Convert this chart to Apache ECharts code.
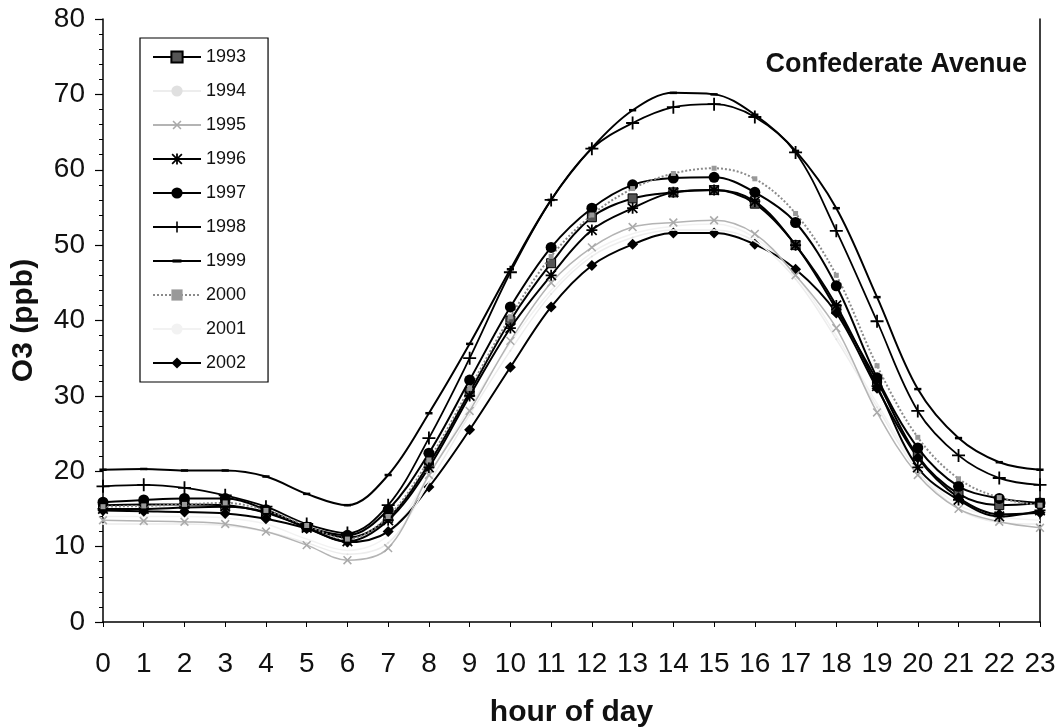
<!DOCTYPE html>
<html>
<head>
<meta charset="utf-8">
<script src="https://cdn.jsdelivr.net/npm/echarts@6/dist/echarts.min.js"></script>
<style>html,body{margin:0;padding:0;background:#fff}#c{width:1060px;height:728px}</style>
</head>
<body>
<div id="c"></div>
<script>
const hours = ['0','1','2','3','4','5','6','7','8','9','10','11','12','13','14','15','16','17','18','19','20','21','22','23'];
const yTicks = [0,10,20,30,40,50,60,70,80];
const s1993 = [15.5,15.6,15.6,15.5,14.5,12.6,11.2,13.8,21.0,30.5,40.0,47.6,53.7,56.2,57.0,57.3,55.5,50.0,41.5,32.0,22.0,17.0,15.5,15.8];
const s1994 = [13.0,13.0,13.0,12.8,12.0,10.5,9.0,10.5,18.5,27.5,36.0,43.5,48.5,51.0,52.0,52.0,50.5,45.5,37.5,28.5,20.0,15.0,13.2,13.0];
const s1995 = [13.5,13.4,13.3,13.0,12.0,10.2,8.2,9.8,19.5,28.0,37.3,45.0,49.7,52.4,53.0,53.3,51.5,46.0,39.0,27.8,19.5,15.0,13.3,12.5];
const s1996 = [15.0,15.0,15.2,15.3,14.6,12.5,10.7,13.5,20.5,30.0,39.0,46.0,52.0,54.9,57.0,57.3,55.8,50.0,42.0,31.3,20.5,16.2,14.0,14.8];
const s1997 = [15.9,16.2,16.4,16.4,14.9,12.6,11.5,14.9,22.4,32.1,41.8,49.7,54.9,58.0,58.9,59.0,57.0,53.0,44.6,32.4,23.1,18.0,16.4,15.8];
const s1998 = [18.0,18.2,17.8,16.8,15.3,13.0,11.8,15.5,24.4,35.0,46.4,56.0,62.8,66.2,68.3,68.7,67.0,62.3,51.9,39.9,28.0,22.1,19.1,18.2];
const s1999 = [20.2,20.3,20.1,20.1,19.3,17.0,15.5,19.5,27.7,36.9,46.8,56.0,62.9,67.9,70.2,70.0,67.3,62.5,54.9,43.1,30.9,24.4,21.2,20.2];
const s2000 = [15.3,15.4,15.6,15.8,14.8,12.8,11.0,14.0,21.5,31.0,40.5,48.5,54.0,57.5,59.5,60.2,58.8,54.2,46.0,34.0,24.5,19.0,16.5,15.5];
const s2001 = [14.0,14.0,14.0,13.8,13.0,11.0,9.5,11.5,19.5,28.5,37.0,44.0,49.0,51.5,52.5,52.8,51.0,46.0,38.0,29.0,20.5,15.5,14.0,13.5];
const s2002 = [14.8,14.7,14.6,14.4,13.7,12.4,10.6,12.0,17.9,25.5,33.8,41.8,47.3,50.1,51.6,51.6,50.1,46.8,41.0,31.0,21.8,16.5,14.3,14.5];
const years = ['1993','1994','1995','1996','1997','1998','1999','2000','2001','2002'];
const values = [s1993,s1994,s1995,s1996,s1997,s1998,s1999,s2000,s2001,s2002];

const PLUS = 'path://M4.3,0h1.4v10h-1.4z M0,4.3h10v1.4h-10z';
const ASTER = 'path://M4.2,0h1.6v10h-1.6z M0,4.2h10v1.6h-10z M1.2,0.1 L9.9,8.8 L8.8,9.9 L0.1,1.2z M8.8,0.1 L9.9,1.2 L1.2,9.9 L0.1,8.8z';
const DASH = 'path://M0,0L0,0M10,10L10,10M1,3.6h8v2.8h-8z';
const FONT = 'Liberation Sans, Arial, sans-serif';
const styles = [
  {color:'#000', width:2, symbol:'rect', size:9, itemColor:'#555', border:'#000'},
  {color:'#ededed', width:1.5, symbol:'circle', size:2, itemColor:'#e0e0e0', border:'#e0e0e0'},
  {color:'#b4b4b4', width:1.5, symbol:PLUS, size:11, rotate:45, itemColor:'#aaa', border:'#aaa'},
  {color:'#000', width:2, symbol:ASTER, size:11, itemColor:'#000', border:'#000'},
  {color:'#000', width:2, symbol:'circle', size:11, itemColor:'#000', border:'#000'},
  {color:'#000', width:1.8, symbol:PLUS, size:13, itemColor:'#000', border:'#000'},
  {color:'#000', width:2, symbol:DASH, size:9, itemColor:'#000', border:'#000'},
  {color:'#8a8a8a', width:2, type:'dotted', symbol:'rect', size:5, itemColor:'#999', border:'#999'},
  {color:'#f2f2f2', width:1.5, symbol:'none', size:0, itemColor:'#f2f2f2', border:'#f2f2f2'},
  {color:'#000', width:2, symbol:'diamond', size:11, itemColor:'#000', border:'#000'}
];

const series = years.map((y,i)=>{
  const st = styles[i];
  return {
    name: y, type:'line', data: values[i], smooth: 0.35,
    symbol: st.symbol, symbolSize: st.size, symbolRotate: st.rotate || 0,
    showSymbol: st.symbol !== 'none',
    lineStyle:{color:st.color, width:st.width, type: st.type || 'solid'},
    itemStyle:{color:st.itemColor, borderColor:st.border, borderWidth: i===0?1:0},
    z: [1,2,7,3,4,5,6].includes(i)? 3 : 2,
    animation:false
  };
});

const chart = echarts.init(document.getElementById('c'));
chart.setOption({
  backgroundColor:'#fff',
  animation:false,
  title:{text:'Confederate Avenue', right:28, top:46,
    textStyle:{fontFamily:FONT, fontWeight:'bold', fontSize:27, color:'#111'}},
  legend:{
    orient:'vertical', left:140, top:38, data: years,
    borderColor:'#000', borderWidth:1.2, padding:[10,22,10,12],
    itemWidth:48, itemHeight:14, itemGap:16,
    textStyle:{fontFamily:FONT, fontSize:18, color:'#111', lineHeight:18},
    inactiveColor:'#ccc'
  },
  grid:{left:103, right:20, top:19, bottom:106, outerBoundsMode:'none', containLabel:false},
  xAxis:{
    type:'category', data:hours, boundaryGap:false,
    name:'hour of day', nameLocation:'middle', nameGap:76,
    nameTextStyle:{fontFamily:FONT, fontWeight:'bold', fontSize:30, color:'#111'},
    axisLine:{lineStyle:{color:'#000', width:1.5}},
    axisTick:{show:true, alignWithLabel:true, length:5, lineStyle:{color:'#000'}},
    axisLabel:{fontFamily:FONT, fontSize:28, color:'#111', margin:28, interval:0},
    splitLine:{show:false}
  },
  yAxis:[{
    type:'value', min:yTicks[0], max:yTicks[yTicks.length-1], interval:10,
    name:'O3 (ppb)', nameLocation:'middle', nameGap:64, nameRotate:90,
    nameTextStyle:{fontFamily:FONT, fontWeight:'bold', fontSize:30, color:'#111'},
    axisLine:{show:true, lineStyle:{color:'#000', width:1.5}},
    axisTick:{show:true, length:8, lineStyle:{color:'#000', width:1.2}},
    minorTick:{show:true, splitNumber:5, length:4, lineStyle:{color:'#000', width:1}},
    axisLabel:{fontFamily:FONT, fontSize:28, color:'#111', margin:18},
    splitLine:{show:false}
  },{
    type:'value', min:0, max:80, position:'right',
    axisLine:{show:true, lineStyle:{color:'#000', width:1.5}},
    axisTick:{show:false}, axisLabel:{show:false}, splitLine:{show:false}
  }],
  series: series
});
</script>
</body>
</html>
